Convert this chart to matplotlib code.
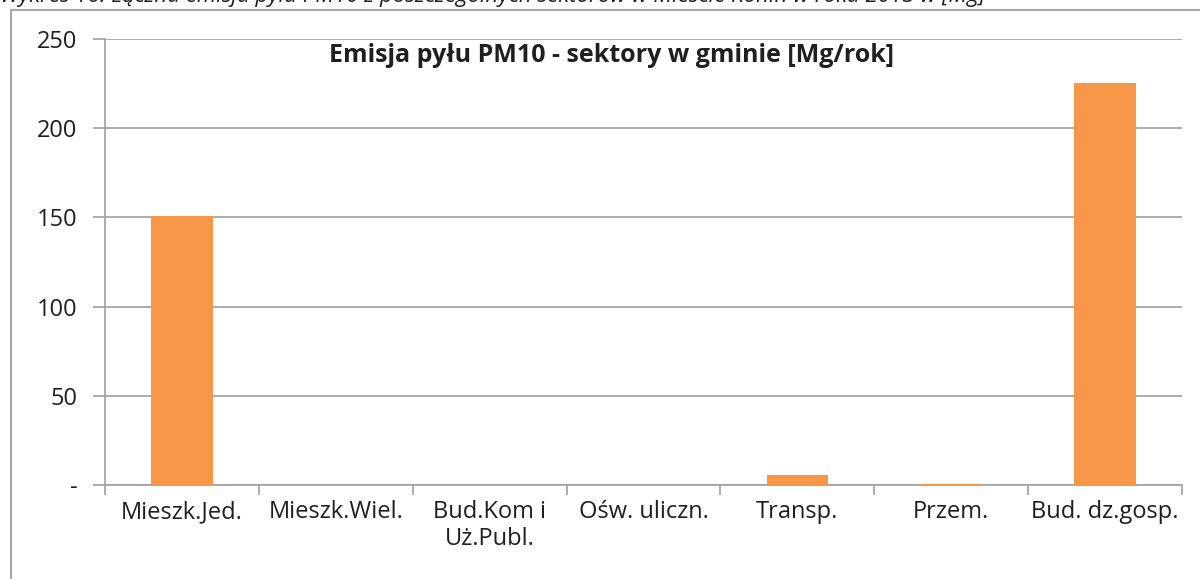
import matplotlib.pyplot as plt
from matplotlib.patches import Rectangle

plt.rcParams['font.family'] = ['Open Sans', 'DejaVu Sans']

# Emisja PM10 wg sektorow [Mg/rok]
categories = ['Mieszk.Jed.', 'Mieszk.Wiel.', 'Bud.Kom i\nUż.Publ.', 'Ośw. uliczn.',
              'Transp.', 'Przem.', 'Bud. dz.gosp.']
values = [151, 0, 0, 0, 5.5, 0.8, 225.3]
yticks = [0, 50, 100, 150, 200, 250]
ytick_labels = ['-', '50', '100', '150', '200', '250']

orange = '#F79646'
gray = '#A6A6A6'
txt = '#1f1f1f'

fig = plt.figure(figsize=(12, 5.79), dpi=100)
ax = fig.add_axes([0.0875, 0.1623, 0.8975, 0.7703])

x = range(len(categories))
ax.bar(x, values, width=0.4, color=orange, zorder=3)

ax.set_xlim(-0.5, len(categories) - 0.5)
ax.set_ylim(0, 250)
ax.set_yticks(yticks)
ax.set_yticklabels(ytick_labels, fontsize=17, color=txt)
ax.yaxis.grid(True, color=gray, linewidth=1.3, zorder=0)

# category labels centred, tick marks on category boundaries
ax.set_xticks(list(x))
ax.set_xticklabels(categories, fontsize=17, color=txt, linespacing=1.15)
ax.tick_params(axis='x', which='major', length=0, pad=11)
ax.set_xticks([i - 0.5 for i in range(len(categories) + 1)], minor=True)
ax.tick_params(axis='x', which='minor', length=7, width=1.3, color=gray, direction='out')
ax.tick_params(axis='y', length=9, width=1.3, color=gray, pad=11)

for side in ['top', 'right']:
    ax.spines[side].set_visible(False)
for side in ['left', 'bottom']:
    ax.spines[side].set_color(gray)
    ax.spines[side].set_linewidth(1.3)

ax.text(0.4705, 0.99, 'Emisja pyłu PM10 - sektory w gminie [Mg/rok]', transform=ax.transAxes,
        ha='center', va='top', fontsize=18, fontweight='bold', color=txt, zorder=5)

# outer chart frame (runs off the right and bottom edge)
fig.patches.append(Rectangle((11 / 1200, -0.05), 1.1, 1 - 10 / 579 + 0.05,
                             transform=fig.transFigure, fill=False,
                             edgecolor=gray, linewidth=1.5))

# caption cut off at the top, as in the source
fig.text(0.0, 1 - 7 / 579,
         'Wykres 16. Łączna emisja pyłu PM10 z poszczególnych sektorów w Mieście Konin w roku 2013 w [Mg]',
         ha='left', va='bottom', fontsize=16, style='italic', color=txt)

fig.savefig('out.png', dpi=100)
